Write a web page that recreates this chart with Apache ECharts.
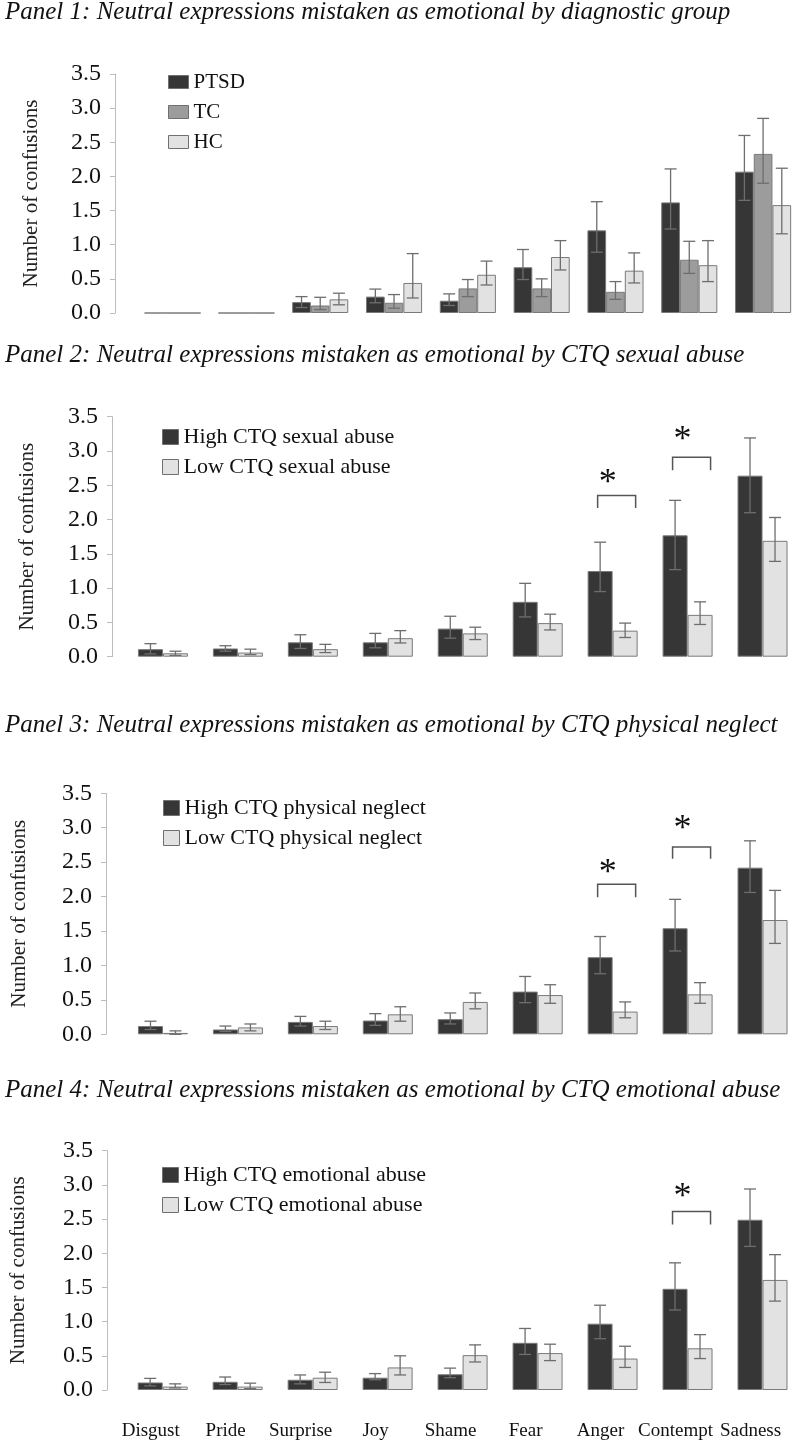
<!DOCTYPE html>
<html><head><meta charset="utf-8">
<script src="https://cdn.jsdelivr.net/npm/echarts@6/dist/echarts.min.js"></script>
<style>html,body{margin:0;padding:0;background:#fff}#c{width:800px;height:1443px}</style>
</head><body><div id="c"></div>
<script>
const categories = ['Disgust','Pride','Surprise','Joy','Shame','Fear','Anger','Contempt','Sadness'];
const yTickLabels = ['0.0','0.5','1.0','1.5','2.0','2.5','3.0','3.5'];
const yName = 'Number of confusions';

const titles = [
  'Panel 1: Neutral expressions mistaken as emotional by diagnostic group',
  'Panel 2: Neutral expressions mistaken as emotional by CTQ sexual abuse',
  'Panel 3: Neutral expressions mistaken as emotional by CTQ physical neglect',
  'Panel 4: Neutral expressions mistaken as emotional by CTQ emotional abuse'
];

// Panel 1: diagnostic group (mean, lower and upper error)
const p1Names = ['PTSD','TC','HC'];
const p1PTSD     = [0, 0, 0.16, 0.24, 0.18, 0.67, 1.21, 1.62, 2.07];
const p1PTSDLow  = [null, null, 0.08, 0.15, 0.11, 0.49, 0.89, 1.23, 1.65];
const p1PTSDHigh = [null, null, 0.24, 0.35, 0.28, 0.93, 1.63, 2.11, 2.60];
const p1TC       = [0, 0, 0.11, 0.15, 0.36, 0.36, 0.31, 0.78, 2.33];
const p1TCLow    = [null, null, 0.05, 0.07, 0.24, 0.24, 0.20, 0.58, 1.90];
const p1TCHigh   = [null, null, 0.23, 0.27, 0.49, 0.50, 0.46, 1.05, 2.85];
const p1HC       = [0, 0, 0.20, 0.44, 0.56, 0.82, 0.62, 0.70, 1.58];
const p1HCLow    = [null, null, 0.12, 0.22, 0.41, 0.63, 0.44, 0.46, 1.16];
const p1HCHigh   = [null, null, 0.29, 0.87, 0.76, 1.06, 0.88, 1.06, 2.12];

// Panel 2: CTQ sexual abuse
const p2Names = ['High CTQ sexual abuse','Low CTQ sexual abuse'];
const p2High     = [0.11, 0.12, 0.21, 0.21, 0.41, 0.80, 1.25, 1.77, 2.64];
const p2HighLow  = [0.04, 0.08, 0.12, 0.13, 0.27, 0.58, 0.95, 1.27, 2.10];
const p2HighHigh = [0.19, 0.16, 0.32, 0.34, 0.59, 1.07, 1.67, 2.28, 3.19];
const p2Low      = [0.05, 0.06, 0.11, 0.27, 0.34, 0.49, 0.38, 0.61, 1.69];
const p2LowLow   = [0.02, 0.03, 0.06, 0.20, 0.25, 0.39, 0.28, 0.47, 1.39];
const p2LowHigh  = [0.08, 0.11, 0.18, 0.38, 0.43, 0.62, 0.49, 0.80, 2.03];
const p2Sig = [[6, 2.17, 2.35, 2.62], [7, 2.72, 2.91, 3.26]];

// Panel 3: CTQ physical neglect
const p3Names = ['High CTQ physical neglect','Low CTQ physical neglect'];
const p3High     = [0.12, 0.07, 0.18, 0.20, 0.22, 0.62, 1.12, 1.54, 2.42];
const p3HighLow  = [0.07, 0.04, 0.12, 0.13, 0.15, 0.46, 0.88, 1.21, 2.06];
const p3HighHigh = [0.19, 0.12, 0.26, 0.30, 0.31, 0.84, 1.42, 1.96, 2.81];
const p3Low      = [0.02, 0.10, 0.12, 0.29, 0.47, 0.57, 0.33, 0.58, 1.66];
const p3LowLow   = [0.00, 0.05, 0.07, 0.19, 0.37, 0.45, 0.24, 0.45, 1.32];
const p3LowHigh  = [0.05, 0.15, 0.19, 0.40, 0.60, 0.72, 0.47, 0.75, 2.09];
const p3Sig = [[6, 1.99, 2.18, 2.43], [7, 2.55, 2.72, 3.07]];

// Panel 4: CTQ emotional abuse
const p4Names = ['High CTQ emotional abuse','Low CTQ emotional abuse'];
const p4High     = [0.11, 0.12, 0.15, 0.18, 0.23, 0.69, 0.97, 1.48, 2.49];
const p4HighLow  = [0.06, 0.08, 0.09, 0.15, 0.18, 0.52, 0.75, 1.17, 2.10];
const p4HighHigh = [0.17, 0.19, 0.22, 0.24, 0.32, 0.90, 1.24, 1.86, 2.94];
const p4Low      = [0.05, 0.05, 0.18, 0.33, 0.51, 0.54, 0.46, 0.61, 1.61];
const p4LowLow   = [0.03, 0.02, 0.11, 0.22, 0.41, 0.43, 0.33, 0.46, 1.30];
const p4LowHigh  = [0.09, 0.10, 0.26, 0.50, 0.66, 0.67, 0.64, 0.81, 1.98];
const p4Sig = [[7, 2.42, 2.61, 2.92]];

// ---------- styling / layout ----------
const SERIF = '"Liberation Serif", "Times New Roman", serif';
const DARK = '#363636', MID = '#9c9c9c', LIGHT = '#e2e2e2';
const layouts = [
  {left:135.7, top:74,    width:671.4, height:239,   yOff:20.7, nameGap:73, bar:18.7, legLeft:163, legTop:66,  iw:20, ih:13, titleY:12},
  {left:125.5, top:416.7, width:675,   height:240,   yOff:13.5, nameGap:74, bar:25,   legLeft:157, legTop:421, iw:16, ih:15, titleY:355},
  {left:125.5, top:793.3, width:675,   height:241,   yOff:19.5, nameGap:76, bar:25,   legLeft:158, legTop:792, iw:16, ih:15, titleY:725},
  {left:123.2, top:1150.7,width:681,   height:239.3, yOff:18.2, nameGap:78, bar:25,   legLeft:157, legTop:1159,iw:16, ih:15, titleY:1090}
];

const panels = [
  {names:p1Names, colors:[DARK,MID,LIGHT], vals:[p1PTSD,p1TC,p1HC], lows:[p1PTSDLow,p1TCLow,p1HCLow], highs:[p1PTSDHigh,p1TCHigh,p1HCHigh], sig:[]},
  {names:p2Names, colors:[DARK,LIGHT], vals:[p2High,p2Low], lows:[p2HighLow,p2LowLow], highs:[p2HighHigh,p2LowHigh], sig:p2Sig},
  {names:p3Names, colors:[DARK,LIGHT], vals:[p3High,p3Low], lows:[p3HighLow,p3LowLow], highs:[p3HighHigh,p3LowHigh], sig:p3Sig},
  {names:p4Names, colors:[DARK,LIGHT], vals:[p4High,p4Low], lows:[p4HighLow,p4LowLow], highs:[p4HighHigh,p4LowHigh], sig:p4Sig}
];

function errRender(offsetPx) {
  return function (params, api) {
    const lo = api.value(1), hi = api.value(2);
    if (lo == null || isNaN(lo) || hi == null || isNaN(hi)) return null;
    const c = api.value(0);
    const pLo = api.coord([c, lo]);
    const pHi = api.coord([c, hi]);
    const x = pLo[0] + offsetPx;
    const cap = 6;
    const st = {stroke:'#6e6e6e', lineWidth:1.3, fill:null};
    return {type:'group', children:[
      {type:'line', shape:{x1:x, y1:pLo[1], x2:x, y2:pHi[1]}, style:st},
      {type:'line', shape:{x1:x-cap, y1:pHi[1], x2:x+cap, y2:pHi[1]}, style:st},
      {type:'line', shape:{x1:x-cap, y1:pLo[1], x2:x+cap, y2:pLo[1]}, style:st}
    ]};
  };
}

function sigRender(params, api) {
  const c = api.value(0);
  const leg = api.coord([c, api.value(1)]);
  const top = api.coord([c, api.value(2)]);
  const star = api.coord([c, api.value(3)]);
  const cx = leg[0];
  const x1 = cx - 15, x2 = cx + 23;
  return {type:'group', children:[
    {type:'polyline', shape:{points:[[x1, leg[1]], [x1, top[1]], [x2, top[1]], [x2, leg[1]]]},
     style:{stroke:'#555', lineWidth:1.5, fill:null}},
    {type:'text', x:cx - 5, y:star[1] + 7,
     style:{text:'*', fontSize:36, fontFamily:SERIF, fill:'#111', align:'center', verticalAlign:'middle'}}
  ]};
}

const grid = [], xAxis = [], yAxis = [], legend = [], series = [], graphic = [];
panels.forEach((p, i) => {
  const L = layouts[i];
  grid.push({left:L.left, top:L.top, width:L.width, height:L.height, containLabel:false});
  xAxis.push({gridIndex:i, type:'category', data:categories,
    axisLine:{show:false}, axisTick:{show:false}, splitLine:{show:false},
    axisLabel:{show:i === 3, interval:0, hideOverlap:false, fontFamily:SERIF, fontSize:19, color:'#111', margin:32, padding:[0,24,0,0]}});
  yAxis.push({gridIndex:i, type:'value', min:0, max:3.5, interval:0.5, offset:L.yOff,
    axisLine:{show:true, lineStyle:{color:'#bdbdbd', width:1}},
    axisTick:{show:true, length:5, lineStyle:{color:'#bdbdbd'}},
    splitLine:{show:false},
    axisLabel:{fontFamily:SERIF, fontSize:24, color:'#111', margin:14,
      formatter:(v) => yTickLabels[Math.round(v / 0.5)]},
    name:yName, nameLocation:'middle', nameGap:L.nameGap,
    nameTextStyle:{fontFamily:SERIF, fontSize:21, color:'#222'}});
  legend.push({data:p.names, orient:'vertical', left:L.legLeft, top:L.legTop,
    itemWidth:L.iw, itemHeight:L.ih, itemGap:8, icon:'rect',
    itemStyle:{borderColor:'#707070', borderWidth:1},
    textStyle:{fontFamily:SERIF, fontSize:i === 0 ? 21 : 22, color:'#111', lineHeight:22}});
  const n = p.names.length;
  p.names.forEach((nm, k) => {
    series.push({name:nm, type:'bar', xAxisIndex:i, yAxisIndex:i, data:p.vals[k],
      barWidth:L.bar, barGap:'0%', animation:false,
      itemStyle:{color:p.colors[k], borderColor:'#7a7a7a', borderWidth:1}});
  });
  p.names.forEach((nm, k) => {
    const off = (k - (n - 1) / 2) * L.bar;
    series.push({type:'custom', name:nm + ' error', xAxisIndex:i, yAxisIndex:i, z:5,
      renderItem:errRender(off), animation:false, silent:true,
      data:categories.map((c, j) => [j, p.lows[k][j], p.highs[k][j]])});
  });
  if (p.sig.length) {
    series.push({type:'custom', name:'significance ' + (i + 1), xAxisIndex:i, yAxisIndex:i, z:6,
      renderItem:sigRender, animation:false, silent:true, data:p.sig});
  }
  graphic.push({type:'text', x:5, y:L.titleY,
    style:{text:titles[i], font:'italic 25px ' + SERIF, fill:'#111', verticalAlign:'middle'}});
});

const chart = echarts.init(document.getElementById('c'), null, {renderer:'canvas'});
chart.setOption({backgroundColor:'#fff', animation:false, grid, xAxis, yAxis, legend, series, graphic});
</script>
</body></html>
